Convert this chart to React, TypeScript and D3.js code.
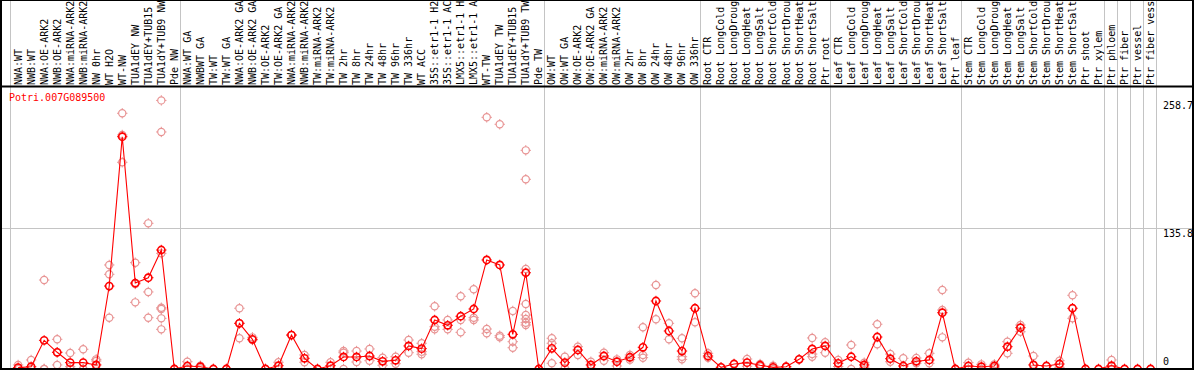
import React from "react";
import * as d3 from "d3";

const title = "Potri.007G089500";

const labels: string[] = [
  "NWA:WT", "NWB:WT", "NWA:OE-ARK2", "NWB:OE-ARK2", "NWA:miRNA-ARK2", "NWB:miRNA-ARK2",
  "NW 0hr", "WT H2O", "WT-NW", "TUA1dEY NW", "TUA1dEY+TUB15 NW", "TUA1dY+TUB9 NW", "Pde NW",
  "NWA:WT GA", "NWBWT GA", "TW:WT", "TW:WT GA", "NWA:OE-ARK2 GA", "NWB:OE-ARK2 GA",
  "TW:OE-ARK2", "TW:OE-ARK2 GA", "NWA:miRNA-ARK2", "NWB:miRNA-ARK2", "TW:miRNA-ARK2", "TW:miRNA-ARK2",
  "TW 2hr", "TW 8hr", "TW 24hr", "TW 48hr", "TW 96hr", "TW 336hr", "WT ACC",
  "35S::etr1-1 H2O", "35S::etr1-1 ACC", "LMX5::etr1-1 H2O", "LMX5::etr1-1 ACC",
  "WT-TW", "TUA1dEY TW", "TUA1dEY+TUB15 TW", "TUA1dY+TUB9 TW", "Pde TW",
  "OW:WT", "OW:WT GA", "OW:OE-ARK2", "OW:OE-ARK2 GA", "OW:miRNA-ARK2", "OW:miRNA-ARK2",
  "OW 2hr", "OW 8hr", "OW 24hr", "OW 48hr", "OW 96hr", "OW 336hr",
  "Root CTR", "Root LongCold", "Root LongDrought", "Root LongHeat", "Root LongSalt",
  "Root ShortCold", "Root ShortDrought", "Root ShortHeat", "Root ShortSalt", "Ptr root",
  "Leaf CTR", "Leaf LongCold", "Leaf LongDrought", "Leaf LongHeat", "Leaf LongSalt",
  "Leaf ShortCold", "Leaf ShortDrought", "Leaf ShortHeat", "Leaf ShortSalt", "Ptr leaf",
  "Stem CTR", "Stem LongCold", "Stem LongDrought", "Stem LongHeat", "Stem LongSalt",
  "Stem ShortCold", "Stem ShortDrought", "Stem ShortHeat", "Stem ShortSalt", "Ptr shoot", "Ptr xylem",
  "Ptr phloem", "Ptr fiber", "Ptr vessel", "Ptr fiber vessel",
];

const means: number[] = [
  1.3, 2.2, 27.6, 16.1, 6.1, 6.1, 3.9, 79.9, 223.7, 82.8, 87.9, 114.6, 0,
  2.9, 2.2, 0, 0, 44.0, 28.6, 0, 3.2, 32.7, 10.3, 0, 3.2, 11.6, 11.6, 12.5, 7.4, 8.4, 22.2,
  19.6, 47.2, 42.1, 50.8, 57.8, 105.0, 100.2, 33.4, 92.7, 0,
  19.9, 6.1, 18.3, 3.9, 12.5, 7.0, 11.3, 20.9, 65.5, 36.6, 17.3, 58.5,
  12.5, 1.6, 4.8, 6.1, 3.6, 1.6, 2.2, 9.3, 19.3, 22.2,
  5.5, 11.8, 3.9, 30.8, 9.9, 2.9, 7.4, 8.7, 54.2, 0,
  2.9, 2.2, 2.9, 21.5, 39.8, 3.9, 2.9, 4.8, 58.5, 0, 0,
  3.2, 0, 0, 0,
];

const reps: number[][] = [
  [3.9, 0, 0], [8.7, 0], [85.7, 0, 0], [28.6, 3.9, 16.1], [15.4, 2.2, 0], [19.0, 0, 0],
  [9.3, 7.7, 0], [100.2, 91.2, 49.4], [246.3, 225.4, 199.1], [102.4, 64.2, 81.9],
  [140.3, 74.2, 49.4], [258.7, 228.3, 111.4, 59.0, 57.8, 48.8, 38.2], [0, 0],
  [7.0, 0], [3.2, 0.5], [0, 0], [0, 0], [58.5, 29.6, 44.0], [30.5, 27.9], [0, 0],
  [6.5, 0], [32.7, 32.7], [13.5, 6.5], [0, 0], [6.5, 0], [17.3, 15.7, 0], [17.3, 6.7],
  [19.3, 8.0], [10.9, 3.6], [11.8, 5.1], [27.9, 15.7], [24.8, 14.2, 16.7],
  [60.4, 40.7, 38.2], [47.2, 38.2], [70.0, 47.2, 35.3], [76.8, 49.4, 47.2],
  [242.4, 38.5, 34.4], [235.7, 32.1, 30.5], [55.9, 26.3, 20.5],
  [210.6, 182.7, 96.3, 62.6, 52.0, 48.2, 44.6, 42.4], [0, 0],
  [29.6, 24.8, 5.5], [11.8, 0.7], [21.5, 13.5], [7.0, 0.7], [15.7, 8.0], [9.3, 2.9],
  [13.5, 9.0], [40.2, 13.5, 10.9], [80.9, 47.9], [44.0, 28.6], [29.6, 11.8, 9.3], [72.9, 45.0],
  [15.1, 10.9], [1.6], [4.8], [9.6, 2.6], [4.8, 2.4], [3.2, 0], [2.2], [9.3],
  [29.9, 11.8, 14.4], [25.7, 15.7],
  [8.7, 2.3], [23.1, 0], [6.1, 1.7], [43.1, 23.8], [14.4, 7.0], [10.3, 0], [10.6, 5.5],
  [15.1, 5.5], [76.1, 56.8, 30.5], [0],
  [6.1, 0], [4.5, 0], [4.5, 1.3], [26.3, 15.1], [42.4, 35.9], [12.5, 0], [2.9], [8.0, 1.6],
  [71.0, 48.8], [0], [0],
  [8.7, 0], [0], [0], [0],
];

// indices where a new group begins (plus the end)
const groupStarts: number[] = [0, 13, 41, 53, 63, 73, 84, 85, 86, 87, 88];
const yTickValues: number[] = [0, 135.8, 258.7];
const yGridValues: number[] = [135.8];

const FONT = "'DejaVu Sans Mono', 'Liberation Mono', monospace";
const RED = "#ff0000";
const PINK = "#e89494";
const GRID = "#c4c4c4";

function Marker({ x, y, color, sw }: { x: number; y: number; color: string; sw: number }) {
  return (
    <g transform={`translate(${x},${y})`}>
      <circle r={3.6} fill="none" stroke={color} strokeWidth={sw} />
      <path d="M0,-5.2V-3.6M0,3.6V5.2M-5.2,0H-3.6M3.6,0H5.2" stroke={color} strokeWidth={1} />
    </g>
  );
}

export default function App() {
  const W = 1194;
  const H = 370;
  const headerBottom = 86.5;
  const plotBottom = 369;

  const x = d3
    .scaleBand<number>()
    .domain(d3.range(labels.length))
    .range([10.3, 1155.8])
    .paddingInner(0)
    .paddingOuter(0);
  const bw = x.bandwidth();
  const cx = (i: number) => (x(i) as number) + bw * 0.6;
  const y = d3.scaleLinear().domain([0, 135.8]).range([plotBottom, 228]);

  const line = d3
    .line<number>()
    .x((_, i) => cx(i))
    .y((d) => y(d));

  const boundaries = groupStarts.map((g) => Math.round(x(g) ?? 1155.8) + 0.5);
  // last boundary (end)
  boundaries[boundaries.length - 1] = Math.round(10.3 + bw * labels.length) + 0.5;

  return (
    <svg
      width={W}
      height={H}
      style={{ position: "absolute", left: 0, top: 0, background: "#fff" }}
      fontFamily={FONT}
    >
      <defs>
        <clipPath id="plotclip">
          <rect x={2} y={88} width={1190} height={plotBottom - 88} />
        </clipPath>
      </defs>
      <rect x={0} y={0} width={W} height={H} fill="#fff" />

      {/* vertical group separators */}
      {boundaries.map((bx, k) => (
        <line key={"v" + k} x1={bx} x2={bx} y1={0} y2={plotBottom} stroke={GRID} strokeWidth={1} shapeRendering="crispEdges" />
      ))}
      {/* horizontal grid */}
      {yGridValues.map((v, k) => (
        <line key={"h" + k} x1={2} x2={1192} y1={Math.round(y(v)) + 0.5} y2={Math.round(y(v)) + 0.5} stroke={GRID} strokeWidth={1} shapeRendering="crispEdges" />
      ))}

      {/* column labels */}
      {labels.map((lab, i) => (
        <text
          key={"l" + i}
          transform={`translate(${(x(i) as number) + 11.2},85) rotate(-90)`}
          fontSize={10}
          fill="#000"
        >
          {lab}
        </text>
      ))}

      {/* title */}
      <text x={9} y={100.5} fontSize={10} fill={RED}>
        {title}
      </text>

      {/* y tick labels */}
      {yTickValues.map((v, k) => (
        <text key={"t" + k} x={1163} y={Math.min(y(v) + 9, 365)} fontSize={10} fill="#000">
          {String(v)}
        </text>
      ))}

      <g clipPath="url(#plotclip)">
        {reps.map((rs, i) =>
          rs.map((r, j) => <Marker key={`r${i}-${j}`} x={cx(i)} y={y(r)} color={PINK} sw={1.2} />)
        )}
        <path d={line(means) || ""} fill="none" stroke={RED} strokeWidth={1.1} />
        {means.map((m, i) => (
          <Marker key={"m" + i} x={cx(i)} y={y(m)} color={RED} sw={1.6} />
        ))}
      </g>

      {/* frame */}
      <line x1={0} x2={W} y1={0.5} y2={0.5} stroke="#000" strokeWidth={1} />
      <line x1={0} x2={W} y1={headerBottom} y2={headerBottom} stroke="#000" strokeWidth={2} />
      <line x1={0} x2={W} y1={plotBottom} y2={plotBottom} stroke="#000" strokeWidth={2} />
      <line x1={1} x2={1} y1={0} y2={H} stroke="#000" strokeWidth={2} />
      <line x1={1193} x2={1193} y1={0} y2={H} stroke="#000" strokeWidth={2} />
    </svg>
  );
}
